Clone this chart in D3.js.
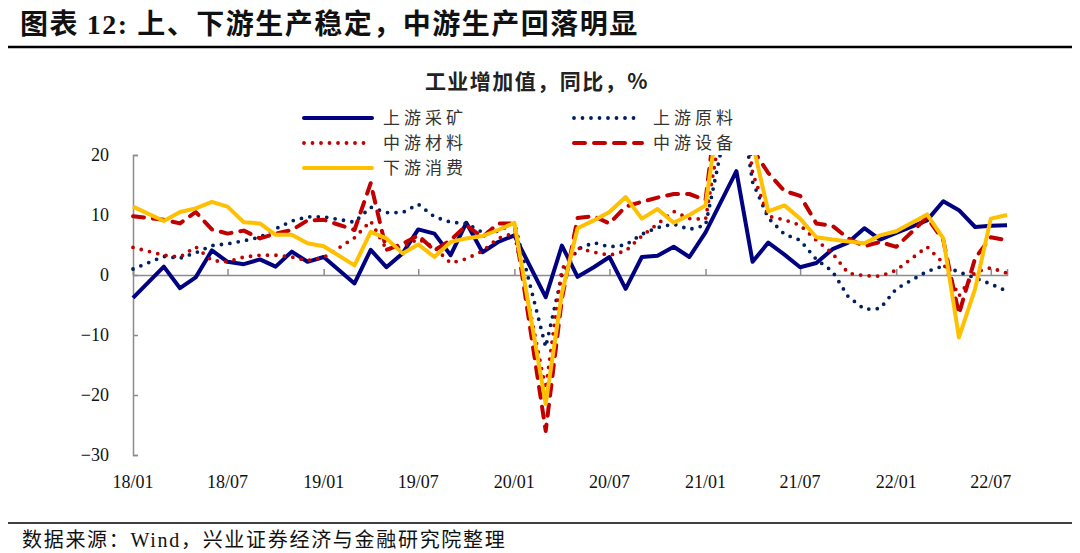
<!DOCTYPE html>
<html>
<head>
<meta charset="utf-8">
<script src="https://cdn.jsdelivr.net/npm/d3@7"></script>
<style>
  body { margin: 0; background: #fff; }
  text { font-family: "Liberation Serif", "Noto Sans CJK SC", serif; }
  .cjk { font-family: "Noto Sans CJK SC", sans-serif; }
</style>
</head>
<body>
<svg id="chart" width="1080" height="553"></svg>
<script>
// data months (Jan is folded into Feb in the source, so it is missing)
const months = [
  "2017-12",
  "2018-02","2018-03","2018-04","2018-05","2018-06","2018-07","2018-08","2018-09","2018-10","2018-11","2018-12",
  "2019-02","2019-03","2019-04","2019-05","2019-06","2019-07","2019-08","2019-09","2019-10","2019-11","2019-12",
  "2020-02","2020-03","2020-04","2020-05","2020-06","2020-07","2020-08","2020-09","2020-10","2020-11","2020-12",
  "2021-02","2021-03","2021-04","2021-05","2021-06","2021-07","2021-08","2021-09","2021-10","2021-11","2021-12",
  "2022-02","2022-03","2022-04","2022-05","2022-06","2022-07"
];
const xTickLabels = ["18/01","18/07","19/01","19/07","20/01","20/07","21/01","21/07","22/01","22/07"];
const yTicks = [20, 10, 0, -10, -20, -30];

const mining = [-3.8,
  1.4, -2.2, -0.4, 4.1, 2.2, 1.8, 2.6, 1.4, 3.9, 2.2, 3.0,
  -1.4, 4.2, 1.3, 3.6, 7.6, 6.9, 3.3, 8.7, 3.8, 5.5, 6.6,
  -3.7, 4.9, -0.3, 1.3, 3.0, -2.3, 3.0, 3.2, 4.7, 3.0, 7.1,
  17.3, 2.2, 5.4, 3.4, 1.3, 2.0, 4.3, 5.4, 7.8, 5.9, 7.0,
  9.1, 12.3, 10.8, 8.0, 8.2, 8.3];
const rawMat = [1.0,
  3.1, 2.8, 3.7, 4.9, 5.2, 5.7, 6.3, 7.7, 9.0, 9.7, 9.7,
  8.8, 11.3, 10.4, 10.4, 11.8, 9.7, 8.8, 8.6, 7.1, 7.3, 8.7,
  -12.0, 0.0, 4.3, 5.4, 4.7, 5.0, 6.8, 7.9, 8.5, 7.6, 8.3,
  33, 15.5, 9.5, 6.8, 5.8, 2.6, 0.6, -3.6, -5.7, -5.6, -2.3,
  0.6, 1.5, 0.5, -0.5, -1.5, -2.7];
const material = [4.6,
  3.3, 3.0, 4.7, 2.4, 2.2, 3.0, 3.3, 3.3, 3.0, 2.4, 2.9,
  6.2, 9.0, 4.3, 4.7, 6.0, 4.6, 2.0, 2.7, 4.0, 6.1, 7.0,
  -19, 1.0, 4.5, 3.8, 3.3, 4.0, 6.5, 8.5, 10.6, 9.4, 9.3,
  40, 17, 9.8, 9.2, 8.3, 5.8, 3.6, 0.3, -0.1, -0.2, 0.8,
  4.7, 2.0, -3.5, 0.5, 1.2, 0.3];
const equipment = [9.8,
  9.2, 8.6, 10.5, 7.6, 6.9, 7.4, 6.1, 6.9, 7.5, 9.1, 9.2,
  7.5, 15.3, 4.2, 5.2, 6.6, 4.1, 5.8, 8.3, 6.3, 8.6, 8.6,
  -26, -4, 9.5, 9.8, 8.6, 11.4, 12.2, 12.9, 13.5, 13.5, 12.5,
  55, 21, 17, 14.0, 13.2, 8.6, 8.2, 6.1, 4.8, 5.5, 4.7,
  9.6, 5.8, -6.5, 2.8, 6.3, 5.8];
const consumer = [11.4,
  9.0, 10.5, 11.1, 12.2, 11.4, 8.8, 8.6, 6.7, 6.7, 5.3, 4.8,
  1.6, 7.2, 6.1, 3.6, 5.1, 3.0, 5.5, 6.1, 6.5, 7.5, 8.7,
  -21.5, -3.0, 7.8, 9.1, 10.5, 13.0, 9.4, 11.0, 8.7, 10.0, 11.6,
  48, 22, 10.6, 11.6, 9.4, 6.3, 5.9, 5.6, 5.3, 6.6, 7.3,
  10.1, 6.1, -10.4, -2.3, 9.4, 10.0];

const series = [
  { name: "上游采矿", values: mining,    color: "#000080", width: 4,   dash: null,    cap: "butt" },
  { name: "上游原料", values: rawMat,    color: "#002060", width: 3.8, dash: "0 8.5", cap: "round" },
  { name: "中游材料", values: material,  color: "#c00000", width: 3.8, dash: "0 8.5", cap: "round" },
  { name: "中游设备", values: equipment, color: "#c00000", width: 4,   dash: "11 9",  cap: "round" },
  { name: "下游消费", values: consumer,  color: "#ffc000", width: 4,   dash: null,    cap: "butt" }
];

const svg = d3.select("#chart");
const parseMonth = d3.timeParse("%Y-%m");
const parseTick = d3.timeParse("%y/%m");
// each monthly value sits at the end of its month
const dates = months.map(m => d3.timeMonth.offset(parseMonth(m), 1));

const x = d3.scaleTime()
  .domain([parseTick("18/01"), dates[dates.length - 1]])
  .range([133, 1007]);
const y = d3.scaleLinear().domain([-30, 20]).range([455, 155]);

// title
svg.append("text").attr("x", 20).attr("y", 34)
  .attr("font-size", 28).attr("font-weight", "bold").attr("fill", "#111")
  .attr("letter-spacing", 1.5)
  .call(t => {
    t.append("tspan").attr("class", "cjk").text("图表 ");
    t.append("tspan").text("12: ");
    t.append("tspan").attr("class", "cjk").text("上、下游生产稳定，中游生产回落明显");
  });
svg.append("line").attr("x1", 8).attr("x2", 1072).attr("y1", 47).attr("y2", 47)
  .attr("stroke", "#000").attr("stroke-width", 2.5);

svg.append("text").attr("class", "cjk").attr("x", 537).attr("y", 89)
  .attr("text-anchor", "middle").attr("font-size", 21).attr("font-weight", "bold")
  .attr("letter-spacing", 1.5).attr("fill", "#222").text("工业增加值，同比，%");

// legend
const legendPos = [[302, 118], [572, 118], [302, 143], [572, 143], [302, 168]];
series.forEach((s, i) => {
  const [lx, ly] = legendPos[i];
  svg.append("line").attr("x1", lx + 2).attr("x2", lx + 70).attr("y1", ly).attr("y2", ly)
    .attr("stroke", s.color).attr("stroke-width", s.width)
    .attr("stroke-dasharray", s.dash).attr("stroke-linecap", s.cap === "butt" ? "round" : s.cap);
  svg.append("text").attr("class", "cjk").attr("x", lx + 81).attr("y", ly + 6)
    .attr("font-size", 17).attr("letter-spacing", 4).attr("fill", "#333").text(s.name);
});

// axes
const axisColor = "#8c8c8c";
const yAxis = d3.axisLeft(y).tickValues(yTicks).tickSize(-5).tickPadding(24).tickFormat(d3.format("d"));
svg.append("g").attr("transform", "translate(133,0)").call(yAxis)
  .call(g => g.select(".domain").attr("stroke", axisColor).attr("stroke-width", 1.5))
  .call(g => g.selectAll(".tick line").attr("stroke", axisColor).attr("stroke-width", 1.5))
  .call(g => g.selectAll(".tick text").attr("font-size", 18).attr("fill", "#111")
    .attr("font-family", "Liberation Serif"));

const tickDates = xTickLabels.map(parseTick);
const xAxis = d3.axisBottom(x).tickValues(tickDates).tickSize(-6).tickFormat(() => "");
svg.append("g").attr("transform", `translate(0,${y(0)})`).call(xAxis)
  .call(g => g.select(".domain").attr("stroke", axisColor).attr("stroke-width", 1.5))
  .call(g => g.selectAll(".tick line").attr("stroke", axisColor).attr("stroke-width", 1.5));

svg.append("g").selectAll("text").data(tickDates).join("text")
  .attr("x", d => x(d)).attr("y", 488).attr("text-anchor", "middle")
  .attr("font-size", 18).attr("fill", "#111").text((d, i) => xTickLabels[i]);

// lines
svg.append("clipPath").attr("id", "plot")
  .append("rect").attr("x", 130).attr("y", 155).attr("width", 885).attr("height", 305);

const line = d3.line().x((d, i) => x(dates[i])).y(d => y(d));
svg.append("g").attr("clip-path", "url(#plot)")
  .selectAll("path").data(series).join("path")
  .attr("d", s => line(s.values))
  .attr("fill", "none")
  .attr("stroke", s => s.color)
  .attr("stroke-width", s => s.width)
  .attr("stroke-dasharray", s => s.dash)
  .attr("stroke-linecap", s => s.cap)
  .attr("stroke-linejoin", "round");

// source
svg.append("line").attr("x1", 8).attr("x2", 1072).attr("y1", 523).attr("y2", 523)
  .attr("stroke", "#000").attr("stroke-width", 1.5);
svg.append("text").attr("x", 22).attr("y", 547).attr("font-size", 20).attr("fill", "#111")
  .attr("letter-spacing", 1.7)
  .call(t => {
    t.append("tspan").attr("class", "cjk").text("数据来源：");
    t.append("tspan").text("Wind");
    t.append("tspan").attr("class", "cjk").text("，兴业证券经济与金融研究院整理");
  });
</script>
</body>
</html>
